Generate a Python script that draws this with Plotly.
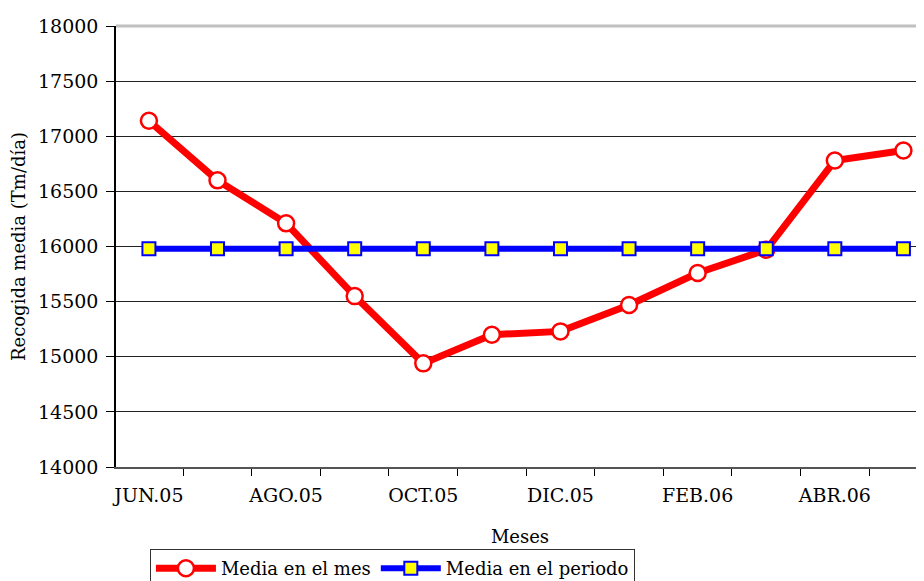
import plotly.graph_objects as go

months = ["JUN.05", "JUL.05", "AGO.05", "SEP.05", "OCT.05", "NOV.05",
          "DIC.05", "ENE.06", "FEB.06", "MAR.06", "ABR.06", "MAY.06"]
media_mes = [17140, 16600, 16210, 15550, 14940, 15200,
             15230, 15470, 15760, 15970, 16780, 16870]
media_periodo = [15980] * 12
y_ticks = [14000, 14500, 15000, 15500, 16000, 16500, 17000, 17500, 18000]

xpos = list(range(len(months)))
FONT = "DejaVu Serif"

fig = go.Figure()
fig.add_trace(go.Scatter(
    x=xpos, y=media_mes, name="Media en el mes", mode="lines+markers",
    line=dict(color="#ff0000", width=7),
    marker=dict(symbol="circle", size=16, color="white",
                line=dict(color="#ff0000", width=2.5)),
))
fig.add_trace(go.Scatter(
    x=xpos, y=media_periodo, name="Media en el periodo", mode="lines+markers",
    line=dict(color="#0000ff", width=6),
    marker=dict(symbol="square", size=13, color="#ffff00",
                line=dict(color="#0000ff", width=2)),
))

fig.update_layout(
    width=924, height=573,
    margin=dict(l=108, r=8, t=18, b=114, autoexpand=False),
    paper_bgcolor="white", plot_bgcolor="white",
    font=dict(family=FONT, size=17, color="black"),
    showlegend=True,
    legend=dict(orientation="h", x=0.042, y=-0.186, xanchor="left", yanchor="top",
                bordercolor="#333333", borderwidth=1, bgcolor="white",
                font=dict(family=FONT, size=18), itemwidth=60,
                tracegroupgap=0),
    xaxis=dict(
        range=[-0.48, 11.3], showgrid=False, zeroline=False,
        showline=True, linecolor="#555555", linewidth=2,
        tickvals=xpos[::2], ticktext=months[::2], ticks="",
        tickfont=dict(family=FONT, size=19),
        ticklabelstandoff=10,
        minor=dict(tickvals=[i - 0.5 for i in xpos] + [len(xpos) - 0.5],
                   ticks="outside", ticklen=7, tickcolor="black", tickwidth=1),
        title=dict(text="Meses", font=dict(family=FONT, size=18), standoff=26),
    ),
    yaxis=dict(
        range=[14000, 18000], tickvals=y_ticks, ticktext=[str(v) for v in y_ticks],
        showgrid=True, gridcolor="#222222", gridwidth=1, zeroline=False,
        showline=True, linecolor="black", linewidth=1.5,
        ticks="outside", ticklen=8, tickcolor="black",
        tickfont=dict(family=FONT, size=19),
        ticklabelstandoff=4,
        title=dict(text="Recogida media (Tm/día)", font=dict(family=FONT, size=18), standoff=10),
    ),
)

fig.add_shape(type="line", xref="paper", yref="paper", x0=0, x1=1, y0=1, y1=1,
              line=dict(color="#c0c0c0", width=3))

fig.write_html("out.html")
